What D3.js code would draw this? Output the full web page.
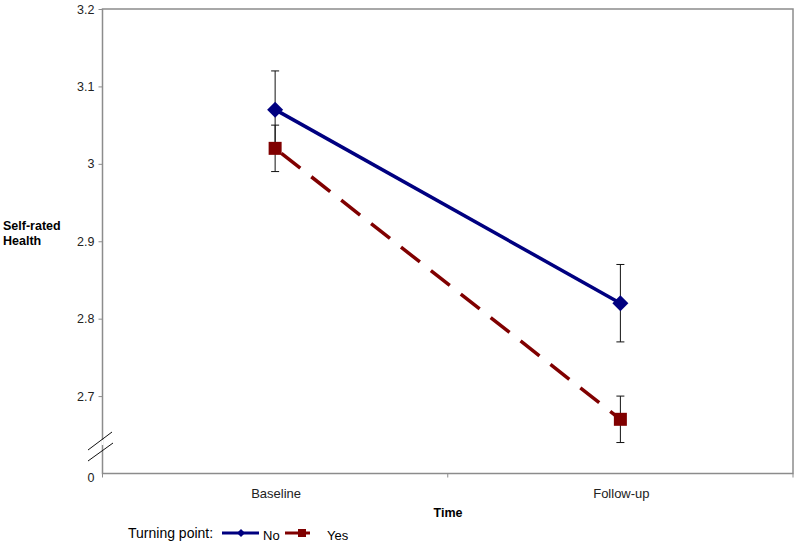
<!DOCTYPE html>
<html>
<head>
<meta charset="utf-8">
<script src="https://cdn.jsdelivr.net/npm/d3@7"></script>
<style>
  body { margin: 0; background: #fff; }
  text { font-family: Arial, "Liberation Sans", sans-serif; }
</style>
</head>
<body>
<div id="chart"></div>
<script>
// données
const times = ["Baseline", "Follow-up"]
const noValues = [3.07, 2.82]
const noErr = [0.05, 0.05]
const yesValues = [3.02, 2.67]
const yesErr = [0.03, 0.03]
const yTicks = [2.7, 2.8, 2.9, 3, 3.1, 3.2]

const width = 800, height = 545
const plotLeft = 102.5, plotRight = 793, plotTop = 9, plotBottom = 473.5

const svg = d3.select("#chart").append("svg")
    .attr("width", width)
    .attr("height", height)

const x = d3.scaleBand().domain(times).range([plotLeft, plotRight]).padding(0)
// l'axe est coupé : le bas du cadre vaut "0"
const y = d3.scaleLinear().domain([2.6, 3.2]).range([plotBottom, plotTop])

// cadre
svg.append("rect")
    .attr("x", plotLeft).attr("y", plotTop)
    .attr("width", plotRight - plotLeft).attr("height", plotBottom - plotTop)
    .attr("fill", "none")
    .attr("stroke", "#8c8c8c")
    .attr("stroke-width", 1.5)

// axe y
const yAxis = svg.append("g")
    .attr("transform", "translate(" + plotLeft + ",0)")
    .call(d3.axisLeft(y).tickValues(yTicks).tickSize(4).tickPadding(4)
      .tickFormat(d => d3.format("")(d)))
yAxis.select(".domain").remove()
yAxis.selectAll("line").attr("stroke", "#8c8c8c")
yAxis.selectAll("text").attr("font-size", "12.5px").attr("fill", "#222")
    .style("font-family", "Arial, 'Liberation Sans', sans-serif")

svg.append("text")
    .attr("x", plotLeft - 8).attr("y", plotBottom + 8)
    .attr("text-anchor", "end")
    .attr("font-size", "12.5px")
    .attr("fill", "#222")
    .text("0")

// marques de coupure
const brk = svg.append("g").attr("stroke", "#111").attr("stroke-width", 1)
brk.append("rect").attr("x", plotLeft - 1).attr("y", 440).attr("width", 2).attr("height", 5)
    .attr("fill", "#fff").attr("stroke", "none")
brk.append("line").attr("x1", 88).attr("y1", 450).attr("x2", 112).attr("y2", 432)
brk.append("line").attr("x1", 88).attr("y1", 461).attr("x2", 113).attr("y2", 443)

// axe x
const xAxis = svg.append("g")
    .attr("transform", "translate(0," + plotBottom + ")")
xAxis.selectAll("line").data([plotLeft, (plotLeft + plotRight) / 2, plotRight]).enter()
    .append("line")
    .attr("x1", d => d).attr("x2", d => d)
    .attr("y1", 0).attr("y2", 4)
    .attr("stroke", "#8c8c8c")
xAxis.selectAll("text").data(times).enter()
    .append("text")
    .attr("x", d => x(d) + x.bandwidth() / 2 + 1)
    .attr("y", 24)
    .attr("text-anchor", "middle")
    .attr("font-size", "13px")
    .attr("fill", "#222")
    .text(d => d)

// titres des axes
svg.append("text")
    .attr("x", 448).attr("y", 517)
    .attr("text-anchor", "middle")
    .attr("font-size", "12.5px").attr("font-weight", "bold")
    .text("Time")

const ylab = svg.append("text")
    .attr("font-size", "12.5px").attr("font-weight", "bold")
ylab.append("tspan").attr("x", 3).attr("y", 230).text("Self-rated")
ylab.append("tspan").attr("x", 3).attr("y", 245).text("Health")

const cx = d => x(d) + x.bandwidth() / 2

// barres d'erreur
function errorBars(values, errs) {
  const g = svg.append("g").attr("stroke", "#111").attr("stroke-width", 1)
  times.forEach(function(t, i) {
    const hi = y(values[i] + errs[i]), lo = y(values[i] - errs[i])
    g.append("line").attr("x1", cx(t)).attr("x2", cx(t)).attr("y1", hi).attr("y2", lo)
    g.append("line").attr("x1", cx(t) - 4).attr("x2", cx(t) + 4).attr("y1", hi).attr("y2", hi)
    g.append("line").attr("x1", cx(t) - 4).attr("x2", cx(t) + 4).attr("y1", lo).attr("y2", lo)
  })
}
errorBars(noValues, noErr)
errorBars(yesValues, yesErr)

const line = d3.line().x((d, i) => cx(times[i])).y(d => y(d))

// série "Yes"
svg.append("path")
    .datum(yesValues)
    .attr("d", line)
    .attr("fill", "none")
    .attr("stroke", "#800000")
    .attr("stroke-width", 3.5)
    .attr("stroke-dasharray", "24,14")
    .attr("stroke-dashoffset", -8)

svg.selectAll("rect.yes").data(yesValues).enter()
    .append("rect")
    .attr("class", "yes")
    .attr("x", (d, i) => cx(times[i]) - 6.5)
    .attr("y", d => y(d) - 6.5)
    .attr("width", 13).attr("height", 13)
    .attr("fill", "#800000")

// série "No"
svg.append("path")
    .datum(noValues)
    .attr("d", line)
    .attr("fill", "none")
    .attr("stroke", "#000080")
    .attr("stroke-width", 3.5)

const diamond = "M0,-8L8,0L0,8L-8,0Z"
svg.selectAll("path.no").data(noValues).enter()
    .append("path")
    .attr("class", "no")
    .attr("d", diamond)
    .attr("transform", (d, i) => "translate(" + cx(times[i]) + "," + y(d) + ")")
    .attr("fill", "#000080")

// légende
const leg = svg.append("g")
leg.append("text").attr("x", 128).attr("y", 538).attr("font-size", "14px").text("Turning point:")
leg.append("line").attr("x1", 222).attr("x2", 259).attr("y1", 533).attr("y2", 533)
    .attr("stroke", "#000080").attr("stroke-width", 3)
leg.append("path").attr("d", "M0,-4L4,0L0,4L-4,0Z").attr("transform", "translate(241,533)").attr("fill", "#000080")
leg.append("text").attr("x", 263).attr("y", 540).attr("font-size", "13px").text("No")
leg.append("line").attr("x1", 285).attr("x2", 310).attr("y1", 533).attr("y2", 533)
    .attr("stroke", "#800000").attr("stroke-width", 3)
leg.append("rect").attr("x", 298).attr("y", 529).attr("width", 8).attr("height", 8).attr("fill", "#800000")
leg.append("text").attr("x", 327).attr("y", 540).attr("font-size", "13px").text("Yes")
</script>
</body>
</html>
